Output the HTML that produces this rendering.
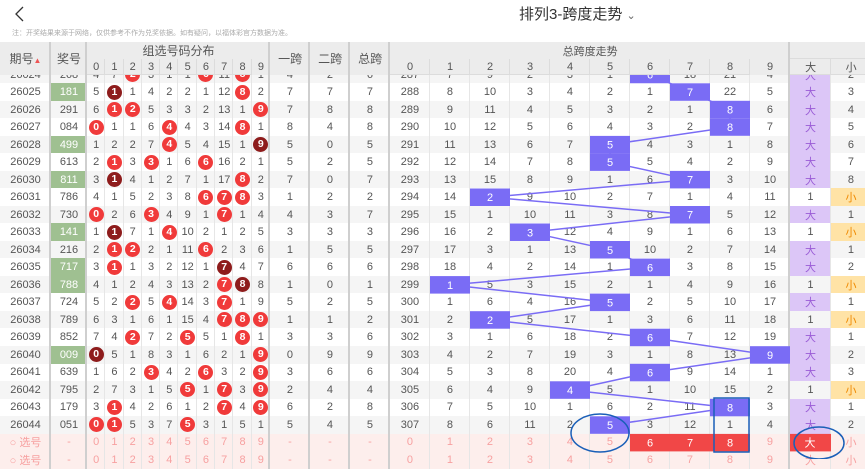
<!DOCTYPE html>
<html><head><meta charset="utf-8">
<style>
*{margin:0;padding:0;box-sizing:border-box}
body{width:865px;height:459px;overflow:hidden;background:#fff;font-family:"Liberation Sans","Noto Sans CJK SC",sans-serif;color:#555;position:relative}
.top{position:absolute;left:0;top:0;width:865px;height:42px;background:#fff;z-index:5}
.title{position:absolute;left:519px;top:3px;font-size:15px;color:#333}
.note{position:absolute;left:12px;top:28px;font-size:7px;color:#aaa;white-space:nowrap}
table{border-collapse:collapse;table-layout:fixed;position:absolute;left:0;width:871px;min-width:871px}
td{text-align:center;font-size:11px;padding:0;overflow:hidden;white-space:nowrap;box-shadow:inset -1px 0 #e6e6e6}
#hd{top:42px;z-index:4;background:#ececec}
#hd td{height:16px;color:#555;box-shadow:inset -1px -1px #dcdcdc}
#hd .big{font-size:12px}
#bd{top:65.75px;z-index:1}
#bd tr{height:17.53px}
#bd tr.g td{background:#f5f5f5}
.s{box-shadow:inset -2px 0 #cfcfcf !important}
.jg{background:#9fc091 !important;color:#fff}
.b{display:inline-block;width:15px;height:15px;border-radius:50%;background:#f03a3a;color:#fff;line-height:15px;font-size:10.5px;font-weight:bold}
.k{background:#8e1c1c}
.da{background:#dcc6f7 !important;color:#9a5cd6}
.xo{background:#ffe3a6 !important;color:#f08a00}
tr.sel td{background:#fdeeec !important;color:#f7a0a0}
svg{position:absolute;left:0;top:0;z-index:2}
</style></head><body>
<div class="top">
<svg width="30" height="30" style="position:absolute;left:10px;top:2px" viewBox="0 0 30 30"><polyline points="13,5 6,12 13,19" fill="none" stroke="#333" stroke-width="1.3"/></svg>
<div class="title">排列3-跨度走势 <span style="font-size:11px;color:#666">&#8964;</span></div>
<div class="note">注：开奖结果来源于网络，仅供参考不作为兑奖依据。如有疑问，以福体彩官方数据为准。</div>
</div>
<table id="hd">
<colgroup><col style="width:51px"><col style="width:36px"><col span="10" style="width:18.3px"><col span="3" style="width:40px"><col span="10" style="width:40px"><col style="width:41px"><col style="width:40px"></colgroup>
<tr><td rowspan="2" class="big s">期号<span style="font-size:8px;color:#e55">&#9650;</span></td><td rowspan="2" class="big s">奖号</td><td colspan="10" class="big s">组选号码分布</td><td rowspan="2" class="big s">一跨</td><td rowspan="2" class="big s">二跨</td><td rowspan="2" class="big s">总跨</td><td colspan="10" class="s">总跨度走势</td><td colspan="2"></td></tr>
<tr><td>0</td><td>1</td><td>2</td><td>3</td><td>4</td><td>5</td><td>6</td><td>7</td><td>8</td><td class="s">9</td><td>0</td><td>1</td><td>2</td><td>3</td><td>4</td><td>5</td><td>6</td><td>7</td><td>8</td><td class="s">9</td><td>大</td><td>小</td></tr>
</table>
<table id="bd">
<colgroup><col style="width:51px"><col style="width:36px"><col span="10" style="width:18.3px"><col span="3" style="width:40px"><col span="10" style="width:40px"><col style="width:41px"><col style="width:40px"></colgroup>
<tr class="g"><td class="s">26024</td><td class="s">268</td><td>4</td><td>7</td><td><b class="b">2</b></td><td>3</td><td>1</td><td>1</td><td><b class="b">6</b></td><td>11</td><td><b class="b">8</b></td><td class="s">1</td><td class="s">4</td><td class="s">2</td><td class="s">6</td><td>287</td><td>7</td><td>9</td><td>2</td><td>3</td><td>1</td><td></td><td>18</td><td>21</td><td class="s">4</td><td class="da">大</td><td>2</td></tr>
<tr><td class="s">26025</td><td class="s jg">181</td><td>5</td><td><b class="b k">1</b></td><td>1</td><td>4</td><td>2</td><td>2</td><td>1</td><td>12</td><td><b class="b">8</b></td><td class="s">2</td><td class="s">7</td><td class="s">7</td><td class="s">7</td><td>288</td><td>8</td><td>10</td><td>3</td><td>4</td><td>2</td><td>1</td><td></td><td>22</td><td class="s">5</td><td class="da">大</td><td>3</td></tr>
<tr class="g"><td class="s">26026</td><td class="s">291</td><td>6</td><td><b class="b">1</b></td><td><b class="b">2</b></td><td>5</td><td>3</td><td>3</td><td>2</td><td>13</td><td>1</td><td class="s"><b class="b">9</b></td><td class="s">7</td><td class="s">8</td><td class="s">8</td><td>289</td><td>9</td><td>11</td><td>4</td><td>5</td><td>3</td><td>2</td><td>1</td><td></td><td class="s">6</td><td class="da">大</td><td>4</td></tr>
<tr><td class="s">26027</td><td class="s">084</td><td><b class="b">0</b></td><td>1</td><td>1</td><td>6</td><td><b class="b">4</b></td><td>4</td><td>3</td><td>14</td><td><b class="b">8</b></td><td class="s">1</td><td class="s">8</td><td class="s">4</td><td class="s">8</td><td>290</td><td>10</td><td>12</td><td>5</td><td>6</td><td>4</td><td>3</td><td>2</td><td></td><td class="s">7</td><td class="da">大</td><td>5</td></tr>
<tr class="g"><td class="s">26028</td><td class="s jg">499</td><td>1</td><td>2</td><td>2</td><td>7</td><td><b class="b">4</b></td><td>5</td><td>4</td><td>15</td><td>1</td><td class="s"><b class="b k">9</b></td><td class="s">5</td><td class="s">0</td><td class="s">5</td><td>291</td><td>11</td><td>13</td><td>6</td><td>7</td><td></td><td>4</td><td>3</td><td>1</td><td class="s">8</td><td class="da">大</td><td>6</td></tr>
<tr><td class="s">26029</td><td class="s">613</td><td>2</td><td><b class="b">1</b></td><td>3</td><td><b class="b">3</b></td><td>1</td><td>6</td><td><b class="b">6</b></td><td>16</td><td>2</td><td class="s">1</td><td class="s">5</td><td class="s">2</td><td class="s">5</td><td>292</td><td>12</td><td>14</td><td>7</td><td>8</td><td></td><td>5</td><td>4</td><td>2</td><td class="s">9</td><td class="da">大</td><td>7</td></tr>
<tr class="g"><td class="s">26030</td><td class="s jg">811</td><td>3</td><td><b class="b k">1</b></td><td>4</td><td>1</td><td>2</td><td>7</td><td>1</td><td>17</td><td><b class="b">8</b></td><td class="s">2</td><td class="s">7</td><td class="s">0</td><td class="s">7</td><td>293</td><td>13</td><td>15</td><td>8</td><td>9</td><td>1</td><td>6</td><td></td><td>3</td><td class="s">10</td><td class="da">大</td><td>8</td></tr>
<tr><td class="s">26031</td><td class="s">786</td><td>4</td><td>1</td><td>5</td><td>2</td><td>3</td><td>8</td><td><b class="b">6</b></td><td><b class="b">7</b></td><td><b class="b">8</b></td><td class="s">3</td><td class="s">1</td><td class="s">2</td><td class="s">2</td><td>294</td><td>14</td><td></td><td>9</td><td>10</td><td>2</td><td>7</td><td>1</td><td>4</td><td class="s">11</td><td>1</td><td class="xo">小</td></tr>
<tr class="g"><td class="s">26032</td><td class="s">730</td><td><b class="b">0</b></td><td>2</td><td>6</td><td><b class="b">3</b></td><td>4</td><td>9</td><td>1</td><td><b class="b">7</b></td><td>1</td><td class="s">4</td><td class="s">4</td><td class="s">3</td><td class="s">7</td><td>295</td><td>15</td><td>1</td><td>10</td><td>11</td><td>3</td><td>8</td><td></td><td>5</td><td class="s">12</td><td class="da">大</td><td>1</td></tr>
<tr><td class="s">26033</td><td class="s jg">141</td><td>1</td><td><b class="b k">1</b></td><td>7</td><td>1</td><td><b class="b">4</b></td><td>10</td><td>2</td><td>1</td><td>2</td><td class="s">5</td><td class="s">3</td><td class="s">3</td><td class="s">3</td><td>296</td><td>16</td><td>2</td><td></td><td>12</td><td>4</td><td>9</td><td>1</td><td>6</td><td class="s">13</td><td>1</td><td class="xo">小</td></tr>
<tr class="g"><td class="s">26034</td><td class="s">216</td><td>2</td><td><b class="b">1</b></td><td><b class="b">2</b></td><td>2</td><td>1</td><td>11</td><td><b class="b">6</b></td><td>2</td><td>3</td><td class="s">6</td><td class="s">1</td><td class="s">5</td><td class="s">5</td><td>297</td><td>17</td><td>3</td><td>1</td><td>13</td><td></td><td>10</td><td>2</td><td>7</td><td class="s">14</td><td class="da">大</td><td>1</td></tr>
<tr><td class="s">26035</td><td class="s jg">717</td><td>3</td><td><b class="b">1</b></td><td>1</td><td>3</td><td>2</td><td>12</td><td>1</td><td><b class="b k">7</b></td><td>4</td><td class="s">7</td><td class="s">6</td><td class="s">6</td><td class="s">6</td><td>298</td><td>18</td><td>4</td><td>2</td><td>14</td><td>1</td><td></td><td>3</td><td>8</td><td class="s">15</td><td class="da">大</td><td>2</td></tr>
<tr class="g"><td class="s">26036</td><td class="s jg">788</td><td>4</td><td>1</td><td>2</td><td>4</td><td>3</td><td>13</td><td>2</td><td><b class="b">7</b></td><td><b class="b k">8</b></td><td class="s">8</td><td class="s">1</td><td class="s">0</td><td class="s">1</td><td>299</td><td></td><td>5</td><td>3</td><td>15</td><td>2</td><td>1</td><td>4</td><td>9</td><td class="s">16</td><td>1</td><td class="xo">小</td></tr>
<tr><td class="s">26037</td><td class="s">724</td><td>5</td><td>2</td><td><b class="b">2</b></td><td>5</td><td><b class="b">4</b></td><td>14</td><td>3</td><td><b class="b">7</b></td><td>1</td><td class="s">9</td><td class="s">5</td><td class="s">2</td><td class="s">5</td><td>300</td><td>1</td><td>6</td><td>4</td><td>16</td><td></td><td>2</td><td>5</td><td>10</td><td class="s">17</td><td class="da">大</td><td>1</td></tr>
<tr class="g"><td class="s">26038</td><td class="s">789</td><td>6</td><td>3</td><td>1</td><td>6</td><td>1</td><td>15</td><td>4</td><td><b class="b">7</b></td><td><b class="b">8</b></td><td class="s"><b class="b">9</b></td><td class="s">1</td><td class="s">1</td><td class="s">2</td><td>301</td><td>2</td><td></td><td>5</td><td>17</td><td>1</td><td>3</td><td>6</td><td>11</td><td class="s">18</td><td>1</td><td class="xo">小</td></tr>
<tr><td class="s">26039</td><td class="s">852</td><td>7</td><td>4</td><td><b class="b">2</b></td><td>7</td><td>2</td><td><b class="b">5</b></td><td>5</td><td>1</td><td><b class="b">8</b></td><td class="s">1</td><td class="s">3</td><td class="s">3</td><td class="s">6</td><td>302</td><td>3</td><td>1</td><td>6</td><td>18</td><td>2</td><td></td><td>7</td><td>12</td><td class="s">19</td><td class="da">大</td><td>1</td></tr>
<tr class="g"><td class="s">26040</td><td class="s jg">009</td><td><b class="b k">0</b></td><td>5</td><td>1</td><td>8</td><td>3</td><td>1</td><td>6</td><td>2</td><td>1</td><td class="s"><b class="b">9</b></td><td class="s">0</td><td class="s">9</td><td class="s">9</td><td>303</td><td>4</td><td>2</td><td>7</td><td>19</td><td>3</td><td>1</td><td>8</td><td>13</td><td class="s"></td><td class="da">大</td><td>2</td></tr>
<tr><td class="s">26041</td><td class="s">639</td><td>1</td><td>6</td><td>2</td><td><b class="b">3</b></td><td>4</td><td>2</td><td><b class="b">6</b></td><td>3</td><td>2</td><td class="s"><b class="b">9</b></td><td class="s">3</td><td class="s">6</td><td class="s">6</td><td>304</td><td>5</td><td>3</td><td>8</td><td>20</td><td>4</td><td></td><td>9</td><td>14</td><td class="s">1</td><td class="da">大</td><td>3</td></tr>
<tr class="g"><td class="s">26042</td><td class="s">795</td><td>2</td><td>7</td><td>3</td><td>1</td><td>5</td><td><b class="b">5</b></td><td>1</td><td><b class="b">7</b></td><td>3</td><td class="s"><b class="b">9</b></td><td class="s">2</td><td class="s">4</td><td class="s">4</td><td>305</td><td>6</td><td>4</td><td>9</td><td></td><td>5</td><td>1</td><td>10</td><td>15</td><td class="s">2</td><td>1</td><td class="xo">小</td></tr>
<tr><td class="s">26043</td><td class="s">179</td><td>3</td><td><b class="b">1</b></td><td>4</td><td>2</td><td>6</td><td>1</td><td>2</td><td><b class="b">7</b></td><td>4</td><td class="s"><b class="b">9</b></td><td class="s">6</td><td class="s">2</td><td class="s">8</td><td>306</td><td>7</td><td>5</td><td>10</td><td>1</td><td>6</td><td>2</td><td>11</td><td></td><td class="s">3</td><td class="da">大</td><td>1</td></tr>
<tr class="g"><td class="s">26044</td><td class="s">051</td><td><b class="b">0</b></td><td><b class="b">1</b></td><td>5</td><td>3</td><td>7</td><td><b class="b">5</b></td><td>3</td><td>1</td><td>5</td><td class="s">1</td><td class="s">5</td><td class="s">4</td><td class="s">5</td><td>307</td><td>8</td><td>6</td><td>11</td><td>2</td><td></td><td>3</td><td>12</td><td>1</td><td class="s">4</td><td class="da">大</td><td>2</td></tr>
<tr class="sel"><td class="s">○ 选号</td><td class="s">-</td><td>0</td><td>1</td><td>2</td><td>3</td><td>4</td><td>5</td><td>6</td><td>7</td><td>8</td><td class="s">9</td><td class="s">-</td><td class="s">-</td><td class="s">-</td><td>0</td><td>1</td><td>2</td><td>3</td><td>4</td><td>5</td><td></td><td></td><td></td><td class="s">9</td><td></td><td>小</td></tr>
<tr class="sel"><td class="s">○ 选号</td><td class="s">-</td><td>0</td><td>1</td><td>2</td><td>3</td><td>4</td><td>5</td><td>6</td><td>7</td><td>8</td><td class="s">9</td><td class="s">-</td><td class="s">-</td><td class="s">-</td><td>0</td><td>1</td><td>2</td><td>3</td><td>4</td><td>5</td><td>6</td><td>7</td><td>8</td><td class="s">9</td><td>大</td><td>小</td></tr>
</table>
<svg width="865" height="459" viewBox="0 0 865 459" font-family="Liberation Sans, sans-serif" font-size="11">
<polyline fill="none" stroke="#7a6cf5" stroke-width="1.5" points="650,74.5 690,92 730,109.6 730,127.1 610,144.6 610,162.2 690,179.7 490,197.2 690,214.7 530,232.3 610,249.8 650,267.3 450,284.9 610,302.4 490,319.9 650,337.5 770,355 650,372.5 570,390 730,407.6 610,425.1"/>
<g fill="#7a6cf5">
<rect x="630" y="65.75" width="40" height="17.5"/><rect x="670" y="83.3" width="40" height="17.5"/><rect x="710" y="100.8" width="40" height="17.5"/><rect x="710" y="118.3" width="40" height="17.5"/><rect x="590" y="135.9" width="40" height="17.5"/><rect x="590" y="153.4" width="40" height="17.5"/><rect x="670" y="170.9" width="40" height="17.5"/><rect x="470" y="188.5" width="40" height="17.5"/><rect x="670" y="206" width="40" height="17.5"/><rect x="510" y="223.5" width="40" height="17.5"/><rect x="590" y="241" width="40" height="17.5"/><rect x="630" y="258.6" width="40" height="17.5"/><rect x="430" y="276.1" width="40" height="17.5"/><rect x="590" y="293.6" width="40" height="17.5"/><rect x="470" y="311.2" width="40" height="17.5"/><rect x="630" y="328.7" width="40" height="17.5"/><rect x="750" y="346.2" width="40" height="17.5"/><rect x="630" y="363.8" width="40" height="17.5"/><rect x="550" y="381.3" width="40" height="17.5"/><rect x="710" y="398.8" width="40" height="17.5"/><rect x="590" y="416.3" width="40" height="17.5"/>
</g>
<g fill="#f14747"><rect x="630" y="433.9" width="40" height="17.5"/><rect x="670" y="433.9" width="40" height="17.5"/><rect x="710" y="433.9" width="40" height="17.5"/><rect x="790" y="433.9" width="41" height="17.5"/></g>
<g fill="#fff" text-anchor="middle">
<text x="650" y="78.5">6</text><text x="690" y="96">7</text><text x="730" y="113.6">8</text><text x="730" y="131.1">8</text><text x="610" y="148.6">5</text><text x="610" y="166.2">5</text><text x="690" y="183.7">7</text><text x="490" y="201.2">2</text><text x="690" y="218.7">7</text><text x="530" y="236.3">3</text><text x="610" y="253.8">5</text><text x="650" y="271.3">6</text><text x="450" y="288.9">1</text><text x="610" y="306.4">5</text><text x="490" y="323.9">2</text><text x="650" y="341.5">6</text><text x="770" y="359">9</text><text x="650" y="376.5">6</text><text x="570" y="394">4</text><text x="730" y="411.6">8</text><text x="610" y="429.1">5</text>
<text x="650" y="446.6">6</text><text x="690" y="446.6">7</text><text x="730" y="446.6">8</text><text x="810" y="446.6" font-family="Noto Sans CJK SC, sans-serif">大</text>
</g>
<g fill="none" stroke="#1a5fb8" stroke-width="1.5">
<ellipse cx="600" cy="433" rx="29" ry="19"/>
<rect x="714" y="398" width="35" height="54"/>
<ellipse cx="819" cy="443" rx="25" ry="16"/>
</g>
</svg>
</body></html>
